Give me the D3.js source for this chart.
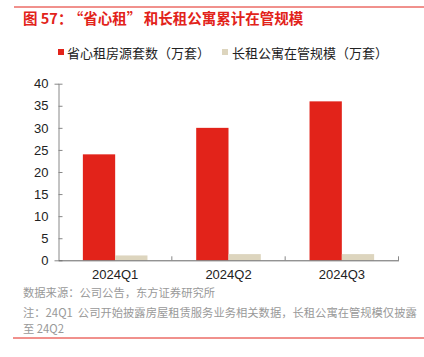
<!DOCTYPE html>
<html lang="zh-CN"><head><meta charset="utf-8">
<script src="https://cdn.jsdelivr.net/npm/d3@7"></script>
<style>body{margin:0;background:#fff}svg{display:block}</style>
</head><body>
<script>
const categories = ["2024Q1", "2024Q2", "2024Q3"];
const seriesNames = ["省心租房源套数（万套）", "长租公寓在管规模（万套）"];
const rentHomes = [24, 30, 36];
const apartments = [1.1, 1.4, 1.4];
const yTicks = [0, 5, 10, 15, 20, 25, 30, 35, 40];
const titleParts = ["图 57：", "“省心租”", "和长租公寓累计在管规模"];
const sourceText = "数据来源：公司公告，东方证券研究所";
const noteLines = ["注：24Q1  公司开始披露房屋租赁服务业务相关数据，长租公寓在管规模仅披露", "至 24Q2"];

const W = 424, H = 357;
const colors = ["#E2231A", "#DDD5BE"];
const font = "'Noto Sans CJK SC', 'Liberation Sans', sans-serif";
const svg = d3.select("body").append("svg").attr("width", W).attr("height", H);

svg.append("line").attr("x1", 14).attr("x2", 424).attr("y1", 7).attr("y2", 7)
  .attr("stroke", "#E2231A").attr("stroke-width", 1);
const title = svg.append("text").attr("x", 23).attr("y", 23.5)
  .attr("font-family", font).attr("font-size", 14.5).attr("font-weight", "bold").attr("fill", "#E2231A")
  .style("white-space", "pre");
const titleDx = [0, 3.5, 2.5];
titleParts.forEach((t, i) => title.append("tspan").attr("dx", titleDx[i]).text(t));

const m = {left: 58.5, right: 398.5, top: 83.7, bottom: 260.3};
const x = d3.scaleBand().domain(categories).range([m.left, m.right]).paddingInner(0.43).paddingOuter(0.215);
const xs = d3.scaleBand().domain([0, 1]).range([0, x.bandwidth()]);
const y = d3.scaleLinear().domain([0, 40]).range([m.bottom, m.top]);

const data = categories.map((c, i) => ({c, v: [rentHomes[i], apartments[i]]}));
const g = svg.append("g");
data.forEach(d => {
  d.v.forEach((v, k) => {
    g.append("rect").attr("x", x(d.c) + xs(k)).attr("width", xs.bandwidth())
      .attr("y", y(v)).attr("height", y(0) - y(v)).attr("fill", colors[k]);
  });
});

const yAxis = svg.append("g").attr("transform", `translate(${m.left},0)`)
  .call(d3.axisLeft(y).tickValues(yTicks).tickSize(4).tickPadding(6));
yAxis.select(".domain").attr("stroke", "#888");
yAxis.selectAll(".tick line").attr("stroke", "#888").attr("x2", 4);
yAxis.selectAll("text").attr("font-family", "'Liberation Sans', sans-serif").attr("font-size", 13).attr("fill", "#222");

const xAxis = svg.append("g").attr("transform", `translate(0,${m.bottom})`)
  .call(d3.axisBottom(x).tickSize(0).tickPadding(9));
xAxis.select(".domain").attr("stroke", "#666");
xAxis.selectAll("text").attr("font-family", "'Liberation Sans', sans-serif").attr("font-size", 13).attr("fill", "#222");
categories.forEach((c, i) => {
  const bx = m.left + (i + 1) * (m.right - m.left) / categories.length;
  svg.append("line").attr("x1", bx).attr("x2", bx).attr("y1", m.bottom).attr("y2", m.bottom - 4).attr("stroke", "#888");
});

const leg = [{x: 58, tx: 67}, {x: 222, tx: 232}];
seriesNames.forEach((n, k) => {
  svg.append("rect").attr("x", leg[k].x).attr("y", 49).attr("width", 6).attr("height", 6).attr("fill", colors[k]);
  svg.append("text").attr("x", leg[k].tx).attr("y", 57.5).text(n)
    .attr("font-family", font).attr("font-size", 13).attr("fill", "#222");
});

svg.append("text").attr("x", 23).attr("y", 297).text(sourceText)
  .attr("font-family", font).attr("font-size", 11.3).attr("fill", "#999");
noteLines.forEach((t, i) => {
  svg.append("text").attr("x", 23).attr("y", 317 + i * 16).text(t)
    .attr("font-family", font).attr("font-size", 11.3).attr("fill", "#999").style("white-space", "pre");
});
svg.append("line").attr("x1", 13).attr("x2", 424).attr("y1", 338).attr("y2", 338)
  .attr("stroke", "#E2231A").attr("stroke-width", 1);
</script>
</body></html>
